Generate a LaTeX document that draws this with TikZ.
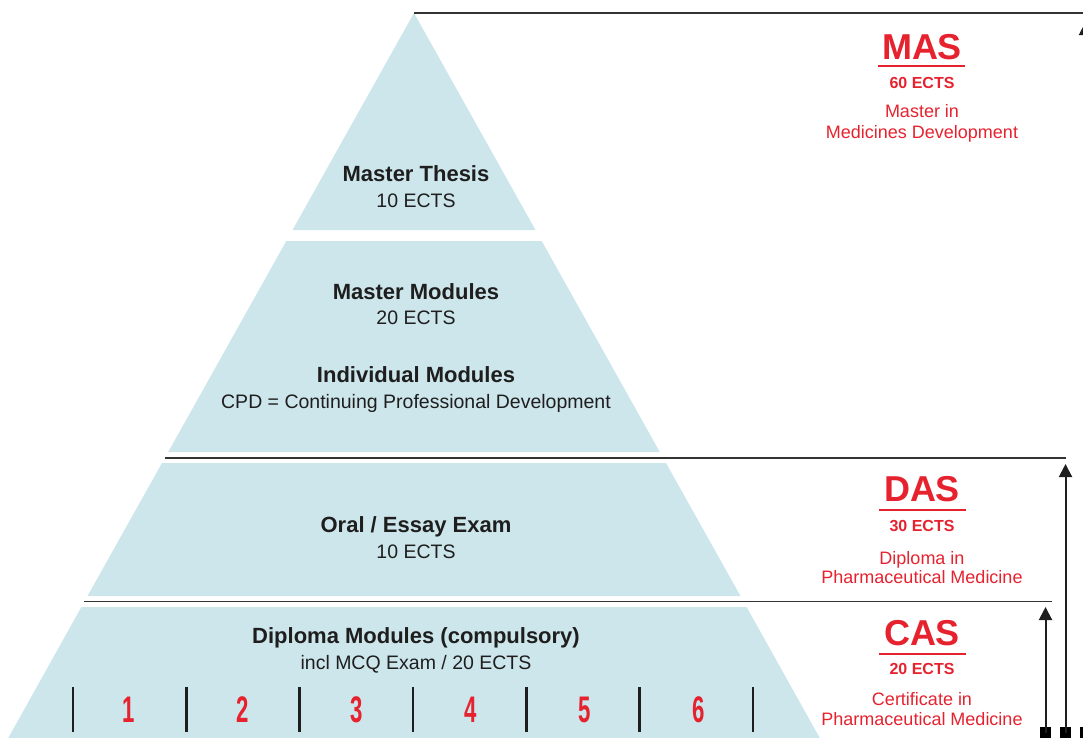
\documentclass[tikz,border=0pt]{standalone}
\usepackage{fontspec}
\setmainfont{Liberation Sans}
\newfontfamily\numfont{Liberation Sans}[FakeStretch=0.6]
\usetikzlibrary{arrows.meta}
\definecolor{pyr}{HTML}{CDE6EB}
\definecolor{dred}{HTML}{E5222E}
\definecolor{ink}{HTML}{1E1E1E}
\definecolor{rulec}{HTML}{333333}
\begin{document}
\begin{tikzpicture}[x=1pt,y=-1pt,
  band/.style={fill=pyr,draw=none},
  head/.style={anchor=base,font=\fontsize{22}{26}\selectfont\bfseries,text=ink,inner sep=0},
  sub/.style={anchor=base,font=\fontsize{19.5}{23}\selectfont,text=ink,inner sep=0},
  deg/.style={anchor=base,font=\fontsize{36}{40}\selectfont\bfseries,text=dred,inner sep=0},
  ects/.style={anchor=base,font=\fontsize{16}{19}\selectfont\bfseries,text=dred,inner sep=0},
  desc/.style={anchor=base,font=\fontsize{18}{21}\selectfont,text=dred,inner sep=0},
  num/.style={anchor=base,font=\numfont\fontsize{37}{40}\selectfont\bfseries,text=dred,inner sep=0},
  sepline/.style={draw=rulec,line width=1.5pt},
  uline/.style={draw=dred,line width=2pt},
  bar/.style={draw=ink,line width=2.5pt},
  sq/.style={fill=black,minimum size=11pt,inner sep=0,draw=none},
  up/.style={draw=ink,line width=2pt,-{Triangle[width=13pt,length=13pt]}}
]
\useasboundingbox (0,0) rectangle (1083,737);
\clip (0,0) rectangle (1083,737);

% pyramid bands
\fill[band] (414,13) -- (535.5,230) -- (292.5,230) -- cycle;
\fill[band] (286.3,241) -- (541.7,241) -- (659.8,452) -- (168.2,452) -- cycle;
\fill[band] (162,463) -- (666,463) -- (740.5,596) -- (87.5,596) -- cycle;
\fill[band] (81.4,607) -- (746.6,607) -- (822,742) -- (6,742) -- cycle;

% separator lines
\draw[sepline] (414,13) -- (1090,13);
\draw[sepline] (164.8,458) -- (1066,458);
\draw[sepline] (84.4,601.5) -- (1052,601.5);

% pyramid texts
\node[head] (mt) at (416,181) {Master Thesis};
\node[sub] (mte) at (416,207) {10 ECTS};
\node[head] (mm) at (416,299) {Master Modules};
\node[sub] (mme) at (416,324) {20 ECTS};
\node[head] (im) at (416,382) {Individual Modules};
\node[sub] (cpd) at (416,408) {CPD = Continuing Professional Development};
\node[head] (oe) at (416,532) {Oral / Essay Exam};
\node[sub] (oee) at (416,558) {10 ECTS};
\node[head] (dm) at (416,643) {Diploma Modules (compulsory)};
\node[sub] (dme) at (416,669) {incl MCQ Exam / 20 ECTS};

% module numbers
\foreach \x in {73,186.3,299.7,413,526.3,639.7,753}
  \draw[bar] (\x,687) -- (\x,732);
\node[num] (n1) at (129,722) {1};
\node[num] (n2) at (242.5,722) {2};
\node[num] (n3) at (356.5,722) {3};
\node[num] (n4) at (470.5,722) {4};
\node[num] (n5) at (584.5,722) {5};
\node[num] (n6) at (698.5,722) {6};

% MAS
\node[deg] (mas) at (922,59) {MAS};
\draw[uline] (878,65.7) -- (965,65.7);
\node[ects] (mase) at (922,88.5) {60 ECTS};
\node[desc] (masd1) at (922,117.5) {Master in};
\node[desc] (masd2) at (922,138.5) {Medicines Development};

% DAS
\node[deg] (das) at (922,501) {DAS};
\draw[uline] (879,509.5) -- (966,509.5);
\node[ects] (dase) at (922,531) {30 ECTS};
\node[desc] (dasd1) at (922,564.5) {Diploma in};
\node[desc] (dasd2) at (922,583.5) {Pharmaceutical Medicine};

% CAS
\node[deg] (cas) at (922,645) {CAS};
\draw[uline] (879,654) -- (966,654);
\node[ects] (case) at (922,674) {20 ECTS};
\node[desc] (casd1) at (922,705.5) {Certificate in};
\node[desc] (casd2) at (922,725.5) {Pharmaceutical Medicine};

% arrows
\coordinate (t1) at (1045.5,607);
\coordinate (t2) at (1065.5,464);
\coordinate (t3) at (1085.5,22);
\node[sq] (s1) at (1045.5,732.5) {};
\node[sq] (s2) at (1065.5,732.5) {};
\node[sq] (s3) at (1085.5,732.5) {};
\draw[up] (s1.center) -- (t1);
\draw[up] (s2.center) -- (t2);
\draw[up] (s3.center) -- (t3);
\end{tikzpicture}
\end{document}
